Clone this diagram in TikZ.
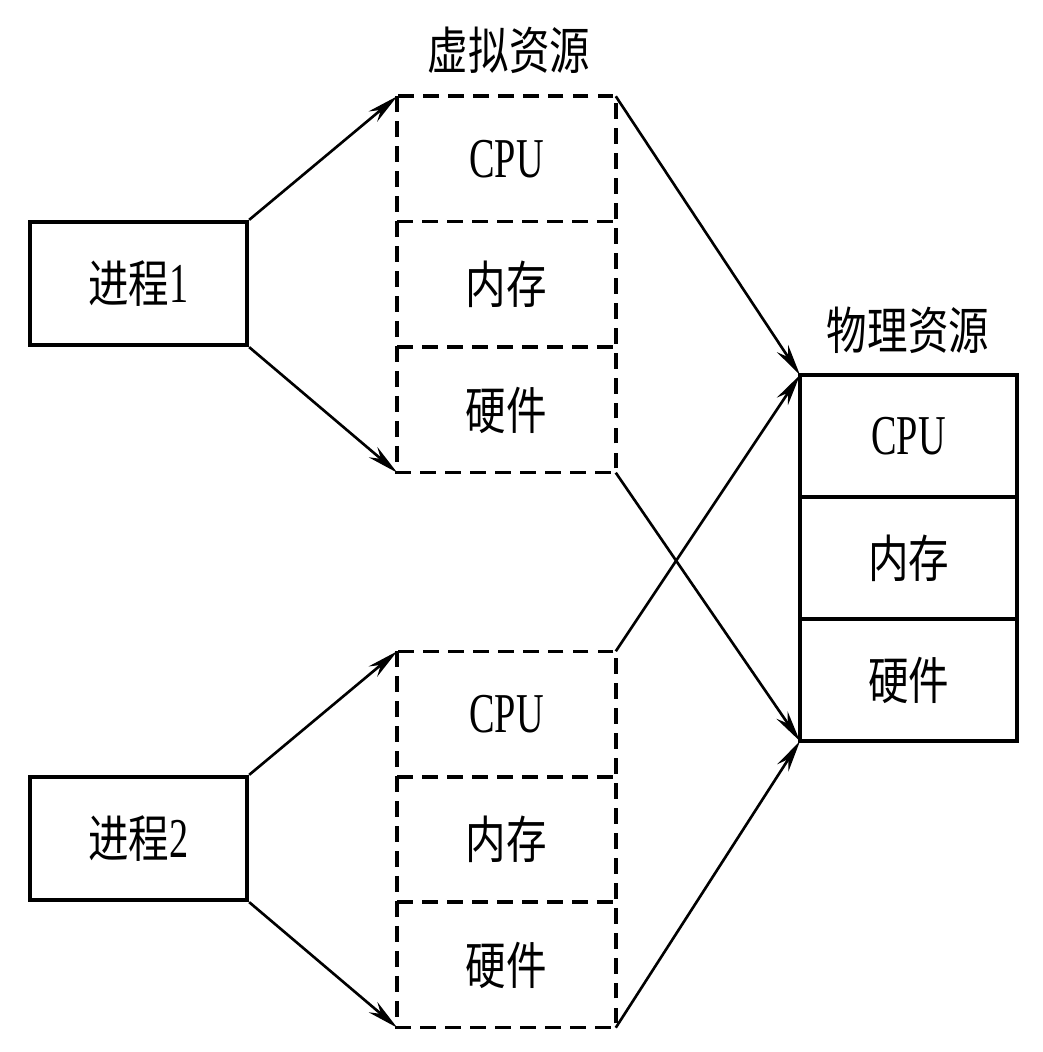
\documentclass[tikz,border=0pt]{standalone}
\usepackage{fontspec}
\setmainfont[FakeStretch=0.68]{Liberation Serif}
\newfontfamily\cjk[FakeStretch=0.8,Scale=0.9]{Noto Sans CJK SC}
\usepackage{tikz}
\usetikzlibrary{
	positioning,    % nodi uno sotto l'altro
	arrows.meta     % punte Stealth
}

\begin{document}
\begin{tikzpicture}[
				x=0.01cm, y=-0.01cm,
				>={Stealth[length=9pt, width=3.8pt]},
				proc/.style={draw, line width=1.2pt, minimum width=2.17cm, minimum height=1.23cm, inner sep=0pt, font=\fontsize{16}{19}\selectfont},
				vcell/.style={minimum width=2.17cm, minimum height=1.24cm, inner sep=0pt, font=\fontsize{16}{19}\selectfont},
				pcell/.style={draw, line width=1.2pt, outer sep=0pt, minimum width=2.17cm, minimum height=1.22cm, inner sep=0pt, font=\fontsize{16}{19}\selectfont},
				vline/.style={line width=1pt, dash pattern=on 4.5pt off 2.6pt},
				link/.style={->, line width=0.75pt},
				title/.style={font=\fontsize{16}{19}\selectfont}
				]
				
				% --- Margini ---
				\useasboundingbox (0,0) rectangle (1042,1052);
				
				% --- Processi ---
				\node[proc] (procA) at (138.5,283.5) {{\cjk 进程}1};
				\node[proc] (procB) at (138.5,838.5) {{\cjk 进程}2};
				
				% --- Risorse virtuali (processo 1) ---
				\node[title] (vtitle) at (509,50) {\cjk 虚拟资源};
				\node[vcell] (vcpuA) at (506.5,159) {CPU};
				\node[vcell, below=0pt of vcpuA] (vmemA) {\cjk 内存};
				\node[vcell, below=0pt of vmemA] (vhwA) {\cjk 硬件};
				\draw[vline] (vcpuA.north west) rectangle (vhwA.south east);
				\draw[vline] (vcpuA.south west) -- (vcpuA.south east);
				\draw[vline] (vmemA.south west) -- (vmemA.south east);
				
				% --- Risorse virtuali (processo 2) ---
				\node[vcell] (vcpuB) at (506.5,714) {CPU};
				\node[vcell, below=0pt of vcpuB] (vmemB) {\cjk 内存};
				\node[vcell, below=0pt of vmemB] (vhwB) {\cjk 硬件};
				\draw[vline] (vcpuB.north west) rectangle (vhwB.south east);
				\draw[vline] (vcpuB.south west) -- (vcpuB.south east);
				\draw[vline] (vmemB.south west) -- (vmemB.south east);
				
				% --- Risorse fisiche ---
				\node[title] (ptitle) at (908,330) {\cjk 物理资源};
				\node[pcell] (pcpu) at (908.5,436) {CPU};
				\node[pcell, below=0pt of pcpu] (pmem) {\cjk 内存};
				\node[pcell, below=0pt of pmem] (phw) {\cjk 硬件};
				
				% --- Frecce ---
				\draw[link] (procA.north east) -- (vcpuA.north west);
				\draw[link] (procA.south east) -- (vhwA.south west);
				\draw[link] (procB.north east) -- (vcpuB.north west);
				\draw[link] (procB.south east) -- (vhwB.south west);
				\draw[link] (vcpuA.north east) -- (pcpu.north west);
				\draw[link] (vhwA.south east) -- (phw.south west);
				\draw[link] (vcpuB.north east) -- (pcpu.north west);
				\draw[link] (vhwB.south east) -- (phw.south west);
\end{tikzpicture}
\end{document}
